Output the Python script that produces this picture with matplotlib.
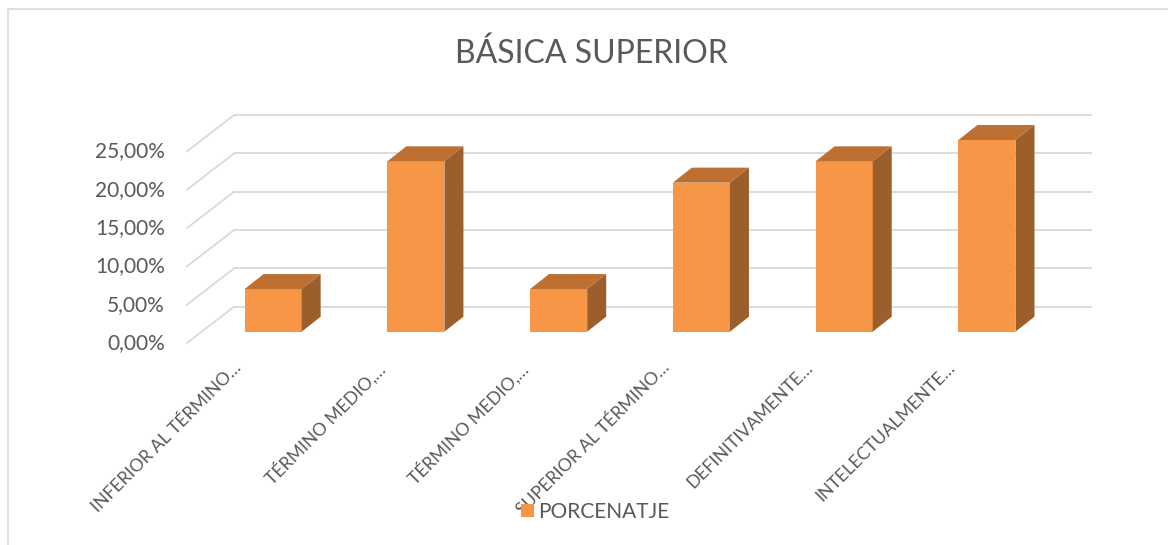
import numpy as np
import matplotlib.pyplot as plt
from matplotlib.patches import Polygon, Rectangle

plt.rcParams['font.family'] = ['Lato', 'DejaVu Sans']

# Datos del gráfico
categorias = ["INFERIOR AL TÉRMINO…", "TÉRMINO MEDIO,…", "TÉRMINO MEDIO,…",
              "SUPERIOR AL TÉRMINO…", "DEFINITIVAMENTE…", "INTELECTUALMENTE…"]
porcentajes = [5.56, 22.22, 5.56, 19.44, 22.22, 25.00]
niveles = [0, 5, 10, 15, 20, 25]
etiquetas_y = ["0,00%", "5,00%", "10,00%", "15,00%", "20,00%", "25,00%"]

gris_texto = "#595959"
gris_linea = "#D9D9D9"
naranja = "#F79646"
naranja_sup = "#BE7032"
naranja_lado = "#9C5F2B"

fig = plt.figure(figsize=(11.68, 5.45), dpi=100)
ax = fig.add_axes([0.1727, 0.3914, 0.7334, 0.3517])
n = len(categorias)
ax.set_xlim(-0.5, n - 0.5)
ax.set_ylim(0, 25)
ax.axis("off")

# pixeles por unidad de datos (para el efecto 3D)
ppx = ax.bbox.width / n
ppy = ax.bbox.height / 25
prof_barra = (19 / ppx, 15 / ppy)
frente = (-14.7 / ppx, -11.3 / ppy)
fondo = (32.4 / ppx, 25 / ppy)

x = np.arange(n)
x0, x1 = -0.5, n - 0.5

# Líneas de división (pared del fondo y pared lateral)
for v, lab in zip(niveles, etiquetas_y):
    ax.plot([x0 + fondo[0], x1 + fondo[0]], [v + fondo[1]] * 2,
            color=gris_linea, lw=1.3, clip_on=False, zorder=1)
    ax.plot([x0 + frente[0], x0 + fondo[0]], [v + frente[1], v + fondo[1]],
            color=gris_linea, lw=1.3, clip_on=False, zorder=1)
    ax.text(x0 + frente[0] - 22 / ppx, v + frente[1], lab, ha="right",
            va="center", fontsize=15, color=gris_texto)

# Barras
w = 0.4
ax.bar(x, porcentajes, width=w, color=naranja, zorder=3, label="PORCENATJE")
dx, dy = prof_barra
for xi, v in zip(x, porcentajes):
    izq, der = xi - w / 2, xi + w / 2
    tapa = Polygon([(izq, v), (der, v), (der + dx, v + dy), (izq + dx, v + dy)],
                   closed=True, fc=naranja_sup, ec="none", zorder=3, clip_on=False)
    lado = Polygon([(der, 0), (der, v), (der + dx, v + dy), (der + dx, dy)],
                   closed=True, fc=naranja_lado, ec="none", zorder=3, clip_on=False)
    ax.add_patch(tapa)
    ax.add_patch(lado)

# Etiquetas de categorías
for xi, cat in zip(x, categorias):
    ax.text(xi - 40 / ppx, -28 / ppy, cat, rotation=45, rotation_mode="anchor",
            ha="right", va="top", fontsize=12.7, color=gris_texto)

fig.text(591.7 / 1168, 1 - 54 / 545, "BÁSICA SUPERIOR", ha="center",
         va="center", fontsize=23, color=gris_texto)

ax.legend(loc="center", bbox_to_anchor=(595 / 1168, 1 - 512 / 545),
          bbox_transform=fig.transFigure, frameon=False, handlelength=0.6,
          handleheight=0.6, handletextpad=0.2, fontsize=15, labelcolor=gris_texto)

# Borde del área del gráfico
fig.add_artist(Rectangle((8 / 1168, -0.1), 1.2, 1.1 - 9 / 545,
                         transform=fig.transFigure, fill=False,
                         ec=gris_linea, lw=1.2))

fig.savefig("out.png", dpi=100)
